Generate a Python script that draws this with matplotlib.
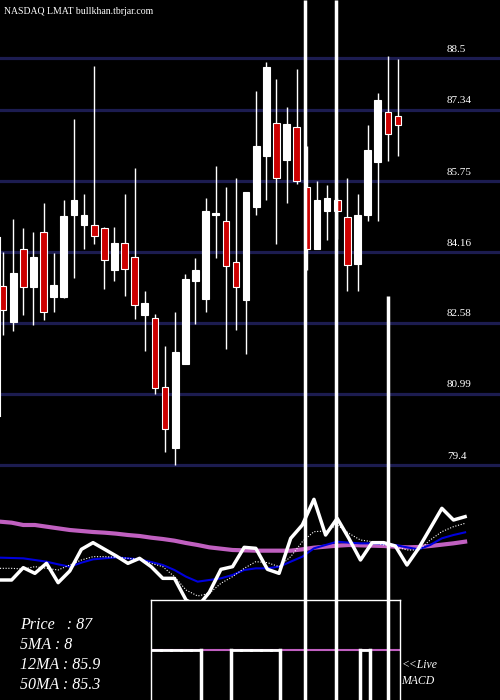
import matplotlib
matplotlib.use("Agg")
import matplotlib.pyplot as plt
import matplotlib.transforms as mt
from matplotlib.patches import Rectangle

# Candles: open, high, low, close
opens  = [83.41,82.60,84.22,83.39,84.60,83.16,83.16,85.00,84.76,84.76,84.69,83.75,84.37,84.04,82.76,82.69,81.15,79.78,81.66,83.52,
          83.12,84.98,84.85,83.93,83.10,85.16,86.30,87.04,86.21,86.95,85.61,84.22,85.09,85.32,84.94,83.90,85.00,86.17,87.29,87.20]
highs  = [84.17,84.89,84.69,84.62,85.25,84.15,85.32,87.13,85.47,88.32,84.73,84.73,85.45,86.03,83.30,82.78,82.07,82.83,83.66,84.02,
          85.36,86.08,85.61,85.81,85.50,87.76,88.41,88.03,87.40,88.25,86.53,85.76,85.65,85.36,85.81,85.45,87.00,87.72,88.54,88.48]
lows   = [82.31,82.40,82.76,82.54,82.65,82.81,83.14,83.59,84.22,84.35,83.34,83.52,83.19,82.67,81.95,80.99,79.69,79.40,81.66,82.56,
          82.83,84.02,82.00,82.42,81.89,85.00,85.32,84.35,85.25,85.68,83.75,84.22,84.44,84.46,83.28,83.30,84.85,84.85,86.19,86.30]
closes = [82.87,83.70,83.39,84.04,82.81,83.43,84.96,85.32,85.00,84.53,83.99,84.37,83.79,82.98,83.03,81.12,80.20,81.93,83.55,83.77,
          85.07,85.03,83.84,83.37,85.50,86.53,88.30,85.81,87.02,85.76,84.22,85.32,85.36,85.09,83.88,85.00,86.44,87.56,86.80,87.00]
price_levels = [88.5, 87.34, 85.75, 84.16, 82.58, 80.99, 79.4]
vol_spikes = [29.8, 32.9, 38.0]
vol_spike_top = [89.797, 89.797, 83.18]

# Indicator panel
price_line = [36.0,36.0,39.7,38.0,41.0,35.2,38.7,45.2,47.2,45.2,43.2,41.0,42.5,40.0,36.5,36.5,30.0,28.0,32.3,39.2,40.0,
              45.8,45.5,39.2,38.0,48.5,52.5,60.2,49.5,54.5,48.5,42.0,47.2,47.2,46.2,40.5,45.5,51.5,57.5,54.0,55.0]
ma5 = [39.5,39.5,39.3,40.0,39.5,39.0,40.5,42.0,43.0,43.0,42.8,42.5,42.2,41.0,40.0,37.0,33.0,31.2,32.0,35.0,37.0,
       39.5,41.5,41.2,40.0,43.0,47.5,50.5,50.7,52.5,50.0,48.0,47.5,46.5,46.0,45.0,45.0,48.0,50.5,52.0,53.0]
ma12 = [42.7,42.6,42.5,42.0,41.5,40.7,40.0,41.2,42.2,42.5,42.8,42.5,42.2,41.4,40.5,39.0,37.0,35.5,36.0,36.5,37.5,
        39.0,39.5,39.5,40.0,41.5,43.0,45.5,46.5,47.5,47.2,47.0,47.0,46.8,46.5,45.8,45.2,46.5,48.5,49.5,50.3]
ma50 = [53.5,53.2,52.5,52.5,52.0,51.5,51.0,50.7,50.4,50.2,49.9,49.5,49.2,48.7,48.3,47.8,47.1,46.5,45.8,45.4,45.0,
        44.9,44.8,44.8,44.8,44.8,45.2,45.7,46.0,46.3,46.5,46.4,46.3,46.2,46.0,45.8,45.9,46.2,46.6,47.0,47.5]
macd_state = [1,1,1,1,1,0,0,0,1,1,1,1,1,0,0,0,0,0,0,0,0,1,0,0,0]

fig = plt.figure(figsize=(5, 7), dpi=100, facecolor="black")

ax = fig.add_axes([0, 0, 1, 1], facecolor="black")
ax.set_xlim(-0.3, 49.07)
ax.set_ylim(74.146, 89.797)
ax.axis("off")
blend = mt.blended_transform_factory(fig.transFigure, ax.transData)
for lv in price_levels:
    ax.axhline(lv, color="#1c1c50", lw=2.3, zorder=1)
    ax.text(0.894, lv + 0.1, f"{lv:g}", transform=blend, color="white", fontsize=8,
            family="Liberation Serif", va="bottom", ha="left")
ax.plot([-0.28, -0.28], [80.5, 84.5], color="white", lw=0.8)

for i, (o, h, l, c) in enumerate(zip(opens, highs, lows, closes)):
    ax.vlines(i, l, h, color="white", lw=1, zorder=2)
    up = c >= o
    ax.add_patch(Rectangle((i - 0.33, min(o, c)), 0.66, max(abs(c - o), 0.04),
                           facecolor="white" if up else "#cc0000",
                           edgecolor="white", lw=0.8, zorder=3))

fig.text(0.008, 0.99, "NASDAQ LMAT bullkhan.tbrjar.com", color="white", fontsize=7,
         family="Liberation Serif", va="top")

# indicator panel
bx = fig.add_axes([0, 0, 1, 230 / 700])
bx.patch.set_alpha(0)
bx.set_xlim(0, 43.0)
bx.set_ylim(0, 69)
bx.axis("off")
k = list(range(len(price_line)))
bx.plot(k, ma50, color="#c060c0", lw=3)
bx.plot(k, ma12, color="#0000dd", lw=1.5)
bx.plot(k, ma5, color="white", lw=0.8, ls=(0, (1, 1.5)))
bx.plot(k, price_line, color="white", lw=2.5)

# MACD box
mx = fig.add_axes([151 / 500, 0, 249 / 500, 100 / 700], facecolor="black")
mx.set_xlim(0, len(macd_state))
mx.set_ylim(0, 1)
for s in mx.spines.values():
    s.set_color("white")
    s.set_linewidth(1)
mx.spines["bottom"].set_visible(False)
mx.set_xticks([]); mx.set_yticks([])
mx.axhline(0.5, color="#c060c0", lw=1.5)
for j, st in enumerate(macd_state):
    if st:
        mx.plot([j, j + 1], [0.5, 0.5], color="white", lw=2)
    if j > 0 and macd_state[j] != macd_state[j - 1]:
        mx.plot([j, j], [0, 0.5], color="white", lw=2.5)

# volume spikes on top
tx = fig.add_axes([0, 0, 1, 1])
tx.patch.set_alpha(0)
tx.set_xlim(-0.3, 49.07)
tx.set_ylim(74.146, 89.797)
tx.axis("off")
for xs, yt in zip(vol_spikes, vol_spike_top):
    tx.vlines(xs, 74.146, yt, color="white", lw=2.5)

labels = ["Price   : 87", "5MA : 8", "12MA : 85.9", "50MA : 85.3"]
for n, s in enumerate(labels):
    fig.text(0.04, 1 - (625 + 20 * n) / 700, s, color="white", fontsize=11.5,
             family="Liberation Serif", style="italic", va="center")
fig.text(0.803, 1 - 665 / 700, "<<Live", color="white", fontsize=8.5,
         family="Liberation Serif", style="italic", va="center")
fig.text(0.803, 1 - 681 / 700, "MACD", color="white", fontsize=8.5,
         family="Liberation Serif", style="italic", va="center")

fig.savefig("out.png", dpi=100, facecolor="black")
